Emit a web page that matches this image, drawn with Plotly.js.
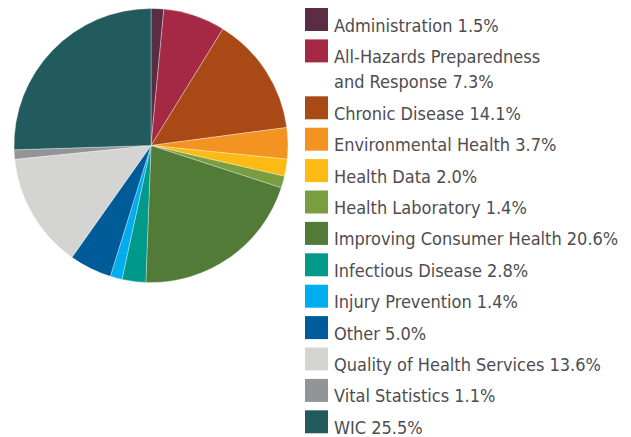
<!DOCTYPE html>
<html>
<head>
<meta charset="utf-8">
<script src="https://cdn.plot.ly/plotly-3.0.1.min.js"></script>
<style>html,body{margin:0;padding:0;background:#fff;}#chart{width:631px;height:437px;}</style>
</head>
<body>
<div id="chart"></div>
<script>
const categories = ["Administration", "All-Hazards Preparedness<br>and Response", "Chronic Disease", "Environmental Health", "Health Data", "Health Laboratory", "Improving Consumer Health", "Infectious Disease", "Injury Prevention", "Other", "Quality of Health Services", "Vital Statistics", "WIC"];
const percents = [1.5, 7.3, 14.1, 3.7, 2.0, 1.4, 20.6, 2.8, 1.4, 5.0, 13.6, 1.1, 25.5];
const colors = ["#5b2d45", "#a52944", "#a84916", "#f39322", "#fdba13", "#7a9d40", "#527b37", "#009a8b", "#00adee", "#005c99", "#d4d4d3", "#939497", "#225b5e"];

const W = 631, H = 437;
const cx = 151, cy = 145.5, r = 137;

const trace = {
  type: 'pie',
  labels: categories,
  values: percents,
  sort: false,
  direction: 'clockwise',
  rotation: 0,
  textinfo: 'none',
  hoverinfo: 'label+value',
  showlegend: false,
  marker: {colors: colors, line: {color: 'rgba(255,255,255,0.55)', width: 0.6}},
  domain: {x: [(cx - r) / W, (cx + r) / W], y: [(H - cy - r) / H, (H - cy + r) / H]}
};

const shapes = [];
const annotations = [];
const sqX0 = 305, sqSize = 23, txtX = 332, step = 31.4, lineGap = 25.5;
let rowTop = 8;
categories.forEach((cat, i) => {
  const lines = cat.split('<br>');
  lines[lines.length - 1] += ' ' + percents[i].toFixed(1) + '%';
  shapes.push({type: 'rect', xref: 'paper', yref: 'paper',
    x0: sqX0 / W, x1: (sqX0 + sqSize) / W,
    y0: 1 - rowTop / H, y1: 1 - (rowTop + sqSize) / H,
    fillcolor: colors[i], line: {width: 0}});
  lines.forEach((ln, j) => {
    const yc = rowTop + sqSize / 2 + 5.5 + j * lineGap;
    annotations.push({xref: 'paper', yref: 'paper', x: txtX / W, y: 1 - yc / H,
      xanchor: 'left', yanchor: 'middle', showarrow: false, text: ln,
      font: {family: '"DejaVu Sans Condensed", "Liberation Sans Narrow", sans-serif', size: 18, color: '#4d4d4f'}});
  });
  rowTop += step + (lines.length - 1) * lineGap;
});

const layout = {
  width: W, height: H,
  margin: {l: 0, r: 0, t: 0, b: 0},
  paper_bgcolor: '#fff',
  shapes: shapes,
  annotations: annotations
};
Plotly.newPlot('chart', [trace], layout, {displayModeBar: false, staticPlot: true});
</script>
</body>
</html>
